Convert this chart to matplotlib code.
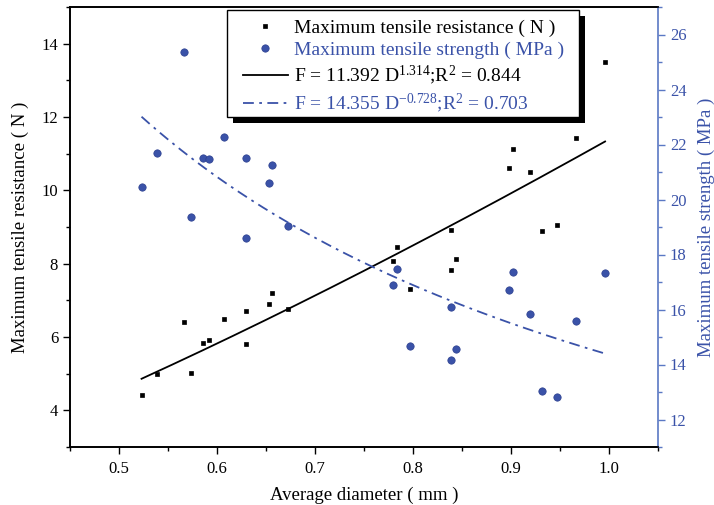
import matplotlib
matplotlib.use("Agg")
import matplotlib.pyplot as plt
import numpy as np
from matplotlib.ticker import MultipleLocator
from matplotlib.patches import Rectangle

plt.rcParams['font.family'] = ['Liberation Serif', 'DejaVu Serif']
plt.rcParams['mathtext.fontset'] = 'custom'
plt.rcParams['mathtext.rm'] = 'Liberation Serif'
plt.rcParams['mathtext.it'] = 'Liberation Serif:italic'

# Average diameter (mm)
diameter = [0.523, 0.539, 0.573, 0.566, 0.586, 0.592, 0.607, 0.630, 0.630,
            0.653, 0.656, 0.672, 0.780, 0.784, 0.797, 0.839, 0.844, 0.839,
            0.898, 0.902, 0.919, 0.932, 0.947, 0.966, 0.996]
# Maximum tensile resistance (N)
resistance = [4.42, 4.99, 5.02, 6.42, 5.83, 5.93, 6.48, 6.71, 5.82,
              6.91, 7.21, 6.76, 8.07, 8.46, 7.31, 8.91, 8.14, 7.83,
              10.60, 11.12, 10.51, 8.89, 9.05, 11.42, 13.50]
# Maximum tensile strength (MPa)
strength = [20.47, 21.70, 19.37, 25.37, 21.51, 21.47, 22.28, 21.50, 18.61,
            20.59, 21.27, 19.04, 16.88, 17.48, 14.67, 16.08, 14.55, 14.16,
            16.71, 17.35, 15.83, 13.04, 12.83, 15.58, 17.34]

# Fitted power laws (from legend)
fit_res_a, fit_res_b = 11.392, 1.314
fit_str_a, fit_str_b = 14.355, -0.728

blue = '#3a52a8'
spine_blue = '#5a78c4'

W, H = 714, 505
fig = plt.figure(figsize=(W/100, H/100), dpi=100)
ax = fig.add_axes([70/W, 58/H, 588/W, 440/H])
ax2 = ax.twinx()

d = np.asarray(diameter)
dfit = np.linspace(d.min(), d.max(), 200)

h1, = ax.plot(diameter, resistance, 's', ms=3.4, mfc='black', mec='black',
              mew=0.5, linestyle='none', label='Maximum tensile resistance ( N )')
h3, = ax.plot(dfit, fit_res_a * dfit ** fit_res_b, '-', color='black', lw=1.3,
              label=r'F = 11.392 D$^{1.314}$;R$^{2}$ = 0.844')
h2, = ax2.plot(diameter, strength, 'o', ms=5.3, mfc=blue, mec='#2c3f8f',
               mew=0.5, linestyle='none', label='Maximum tensile strength ( MPa )')
h4, = ax2.plot(dfit, fit_str_a * dfit ** fit_str_b, color=blue, lw=1.3,
               linestyle=(0, (6, 3, 1.5, 3)),
               label=r'F = 14.355 D$^{-0.728}$;R$^{2}$ = 0.703')

ax.set_xlim(0.45, 1.05)
ax.set_ylim(3, 15)
ax2.set_ylim(11, 27)

ax.xaxis.set_major_locator(MultipleLocator(0.1))
ax.xaxis.set_minor_locator(MultipleLocator(0.05))
ax.yaxis.set_major_locator(MultipleLocator(2))
ax.yaxis.set_minor_locator(MultipleLocator(1))
ax2.yaxis.set_major_locator(MultipleLocator(2))
ax2.yaxis.set_minor_locator(MultipleLocator(1))

ax.tick_params(axis='both', which='major', direction='out', length=5, width=1,
               labelsize=12, colors='black')
ax.tick_params(axis='x', which='major', pad=5)
ax.tick_params(axis='both', which='minor', direction='out', length=3, width=1)
ax2.tick_params(axis='y', which='major', direction='out', length=5, width=1,
                labelsize=12, colors=blue)
ax2.tick_params(axis='y', which='minor', direction='out', length=3, width=1,
                colors=spine_blue)
ax2.tick_params(axis='y', which='major', color=spine_blue)

for s in ['left', 'bottom', 'top']:
    ax.spines[s].set_linewidth(1.2)
    ax2.spines[s].set_linewidth(1.2)
ax2.spines['right'].set_color(spine_blue)
ax2.spines['right'].set_linewidth(1.2)
ax.spines['right'].set_visible(False)

ax.set_xlabel('Average diameter ( mm )', fontsize=13.5, labelpad=7)
ax.set_ylabel('Maximum tensile resistance ( N )', fontsize=13.5, labelpad=9)
ax2.set_ylabel('Maximum tensile strength ( MPa )', fontsize=13.5, color=blue,
               labelpad=8)

# legend frame with solid black shadow (drawn in pixel-derived figure coords)
fx0, fx1, fy0, fy1 = 227, 579, 10, 117
sh = 6
fig.patches.append(Rectangle(((fx0 + sh)/W, 1 - (fy1 + sh)/H),
                             (fx1 - fx0)/W, (fy1 - fy0)/H,
                             transform=fig.transFigure, facecolor='black',
                             edgecolor='none', zorder=2))
fig.patches.append(Rectangle((fx0/W, 1 - fy1/H), (fx1 - fx0)/W, (fy1 - fy0)/H,
                             transform=fig.transFigure, facecolor='white',
                             edgecolor='black', lw=1.0, zorder=3))

leg = fig.legend([h1, h2, h3, h4], [h.get_label() for h in [h1, h2, h3, h4]],
                 loc='upper left', bbox_to_anchor=(243/W, 1 - 19/H),
                 bbox_transform=fig.transFigure,
                 borderaxespad=0, borderpad=0, fontsize=14, frameon=False,
                 handlelength=2.3, handletextpad=0.3, labelspacing=0.24,
                 numpoints=1, markerscale=1.0)
leg.set_zorder(5)
for t, c in zip(leg.get_texts(), ['black', blue, 'black', blue]):
    t.set_color(c)

fig.savefig('out.png', dpi=100)
